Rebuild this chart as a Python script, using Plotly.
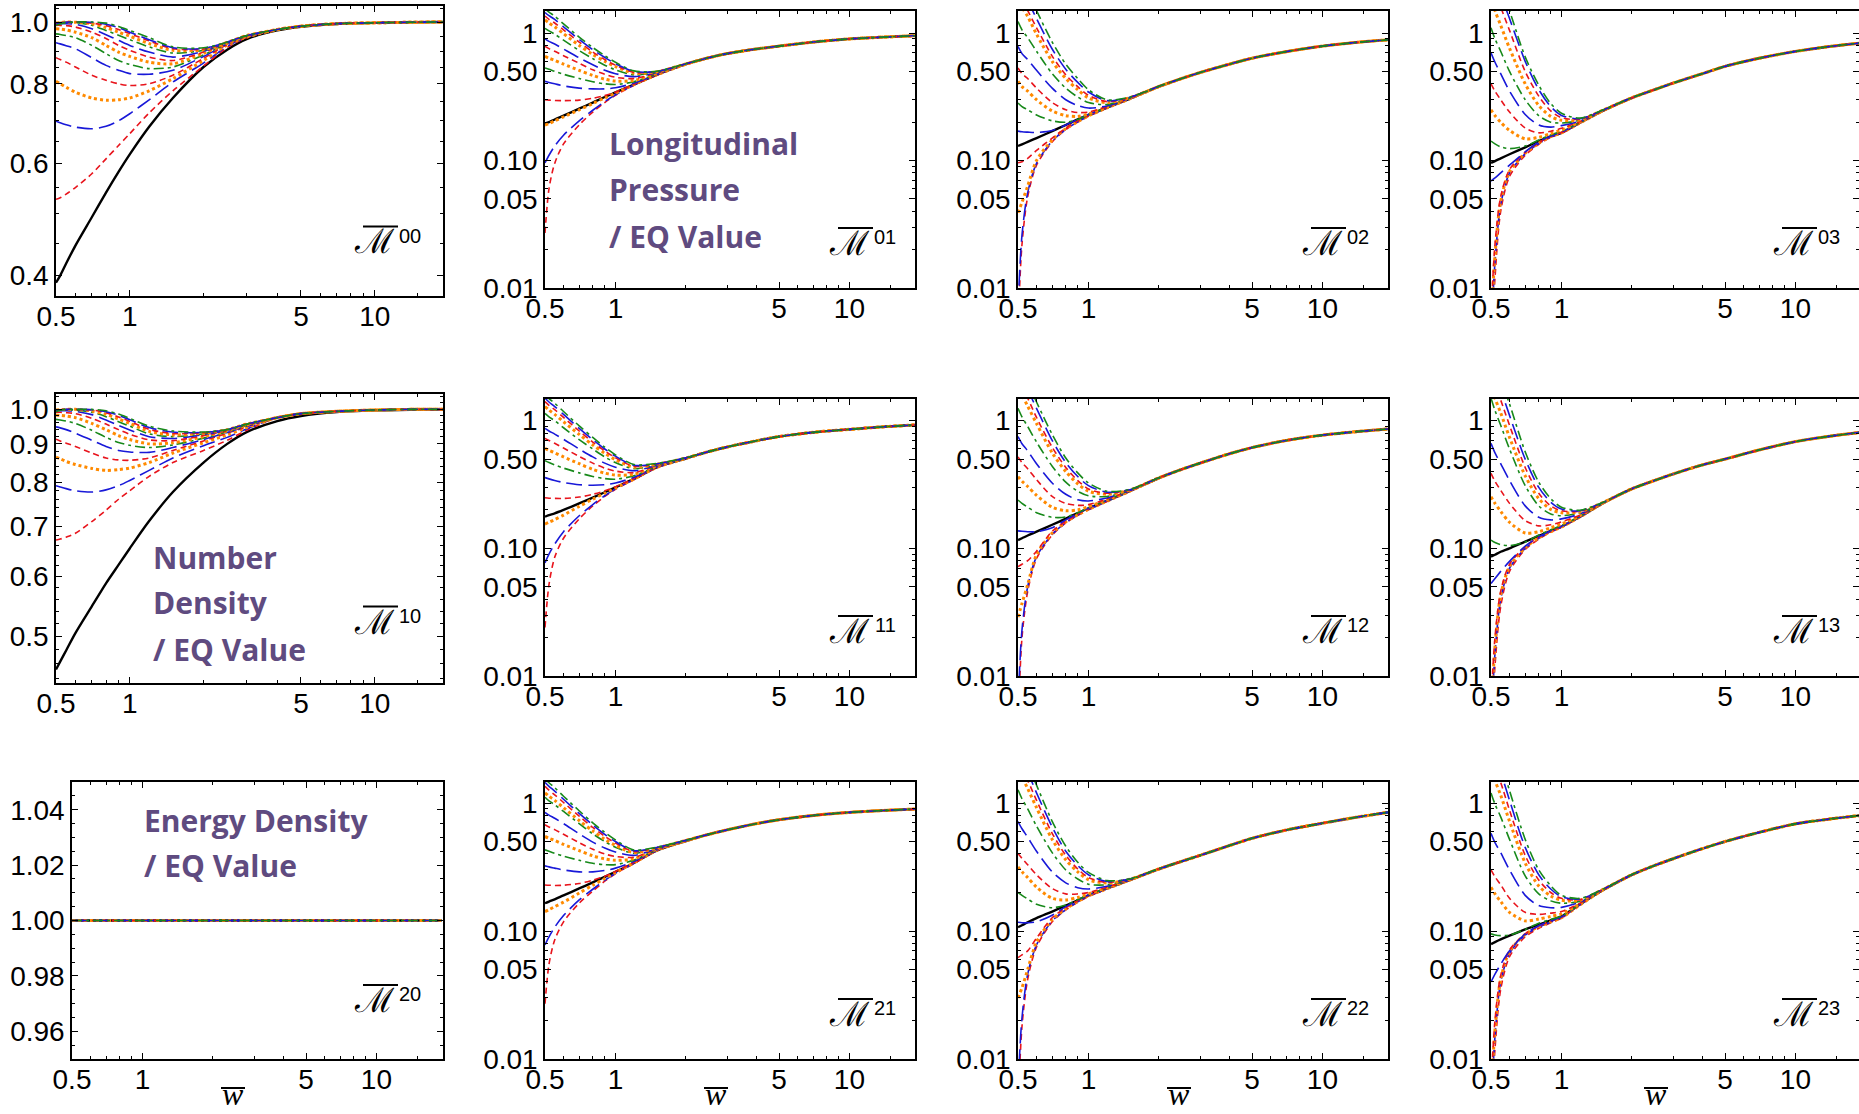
import math
import plotly.graph_objects as go

W, H = 1859, 1114

# ---------------- data ----------------
HEAD_X = [0.5, 0.52, 0.55, 0.6, 0.7, 0.8, 0.9, 1.0, 1.2, 1.5, 2.0, 2.5, 3.0]
TAIL_X = [4.0, 5.0, 7.0, 10.0, 14.0, 19.0]
CURVE_STYLE = ["red", "blue", "orange", "red", "blue", "green", "orange",
               "red", "blue", "green", "orange", "red", "blue", "green"]

X_TICKS = [0.5, 1, 5, 10]
X_TICK_TEXT = ["0.5", "1", "5", "10"]
LOG_Y_TICKS = [0.01, 0.05, 0.1, 0.5, 1]
LOG_Y_TICK_TEXT = ["0.01", "0.05", "0.10", "0.50", "1"]

# ---- M00 ----
M00_BLACK = [0.39, 0.40, 0.418, 0.446, 0.494, 0.54, 0.582, 0.62, 0.685, 0.76, 0.85, 0.905, 0.94,
             0.97, 0.983, 0.993, 0.997, 0.999, 1.0]
M00_TAIL = [0.973, 0.985, 0.994, 0.997, 0.999, 1.0]
M00_CURVES = [
    [0.527, 0.530, 0.537, 0.55, 0.578, 0.61, 0.64, 0.668, 0.72, 0.78, 0.853, 0.912, 0.945],
    [0.699, 0.695, 0.69, 0.684, 0.68, 0.686, 0.70, 0.718, 0.755, 0.805, 0.862, 0.916, 0.946],
    [0.807, 0.80, 0.79, 0.776, 0.76, 0.754, 0.755, 0.76, 0.78, 0.815, 0.87, 0.92, 0.947],
    [0.879, 0.873, 0.865, 0.85, 0.825, 0.81, 0.80, 0.795, 0.80, 0.825, 0.877, 0.922, 0.948],
    [0.928, 0.924, 0.918, 0.908, 0.879, 0.855, 0.84, 0.83, 0.828, 0.84, 0.883, 0.924, 0.949],
    [0.958, 0.956, 0.952, 0.945, 0.919, 0.892, 0.87, 0.858, 0.845, 0.85, 0.888, 0.925, 0.95],
    [0.976, 0.975, 0.972, 0.964, 0.945, 0.919, 0.897, 0.883, 0.865, 0.86, 0.893, 0.926, 0.95],
    [0.988, 0.988, 0.987, 0.982, 0.964, 0.942, 0.919, 0.903, 0.881, 0.87, 0.897, 0.927, 0.951],
    [0.994, 0.994, 0.994, 0.992, 0.976, 0.955, 0.936, 0.919, 0.897, 0.881, 0.90, 0.928, 0.951],
    [0.997, 0.998, 0.999, 0.998, 0.988, 0.97, 0.953, 0.938, 0.914, 0.894, 0.903, 0.929, 0.952],
    [0.996, 0.998, 1.0, 0.999, 0.994, 0.98, 0.964, 0.95, 0.925, 0.903, 0.905, 0.929, 0.952],
    [0.994, 0.997, 1.0, 1.0, 0.996, 0.987, 0.973, 0.959, 0.934, 0.908, 0.907, 0.93, 0.952],
    [0.992, 0.996, 0.999, 1.0, 0.999, 0.992, 0.98, 0.964, 0.938, 0.911, 0.909, 0.93, 0.952],
    [0.988, 0.993, 0.998, 1.0, 1.0, 0.996, 0.984, 0.97, 0.945, 0.914, 0.911, 0.93, 0.952],
]

# ---- M01 ----
M01_BLACK = [0.195, 0.2, 0.21, 0.225, 0.255, 0.285, 0.315, 0.342, 0.395, 0.47, 0.57, 0.64, 0.69,
             0.75, 0.79, 0.85, 0.9, 0.93, 0.953]
M01_TAIL = [0.75, 0.79, 0.85, 0.9, 0.93, 0.953]
M01_CURVES = [
    [0.027, 0.06, 0.095, 0.135, 0.19, 0.24, 0.285, 0.325, 0.39, 0.468, 0.568, 0.64, 0.69],
    [0.096, 0.11, 0.13, 0.158, 0.205, 0.248, 0.29, 0.328, 0.392, 0.47, 0.568, 0.64, 0.69],
    [0.19, 0.195, 0.205, 0.22, 0.25, 0.28, 0.31, 0.338, 0.394, 0.47, 0.569, 0.64, 0.69],
    [0.30, 0.298, 0.296, 0.295, 0.298, 0.308, 0.323, 0.343, 0.397, 0.472, 0.57, 0.64, 0.69],
    [0.418, 0.41, 0.40, 0.385, 0.37, 0.365, 0.365, 0.372, 0.405, 0.475, 0.57, 0.64, 0.69],
    [0.532, 0.52, 0.50, 0.475, 0.44, 0.415, 0.40, 0.395, 0.415, 0.478, 0.571, 0.64, 0.69],
    [0.657, 0.635, 0.61, 0.57, 0.51, 0.465, 0.435, 0.42, 0.425, 0.482, 0.571, 0.64, 0.69],
    [0.786, 0.755, 0.72, 0.665, 0.58, 0.515, 0.475, 0.45, 0.44, 0.486, 0.572, 0.64, 0.69],
    [0.90, 0.86, 0.82, 0.75, 0.64, 0.565, 0.51, 0.48, 0.455, 0.49, 0.572, 0.64, 0.69],
    [1.09, 1.04, 0.98, 0.88, 0.73, 0.63, 0.56, 0.515, 0.47, 0.494, 0.573, 0.64, 0.69],
    [1.27, 1.2, 1.12, 0.99, 0.80, 0.68, 0.60, 0.545, 0.485, 0.497, 0.573, 0.64, 0.69],
    [1.36, 1.28, 1.2, 1.06, 0.85, 0.71, 0.62, 0.56, 0.49, 0.50, 0.574, 0.64, 0.69],
    [1.45, 1.37, 1.28, 1.12, 0.89, 0.74, 0.645, 0.575, 0.50, 0.50, 0.574, 0.64, 0.69],
    [1.55, 1.46, 1.36, 1.18, 0.93, 0.77, 0.665, 0.59, 0.505, 0.502, 0.575, 0.64, 0.69],
]

# ---- M02 ----
M02_BLACK = [0.13, 0.134, 0.14, 0.15, 0.17, 0.19, 0.21, 0.228, 0.26, 0.305, 0.38, 0.44, 0.49,
             0.57, 0.635, 0.715, 0.79, 0.845, 0.885]
M02_TAIL = [0.57, 0.635, 0.715, 0.79, 0.845, 0.885]
M02_CURVES = [
    [0.005, 0.022, 0.052, 0.092, 0.14, 0.175, 0.2, 0.222, 0.258, 0.305, 0.38, 0.44, 0.49],
    [0.007, 0.026, 0.056, 0.095, 0.142, 0.176, 0.201, 0.223, 0.258, 0.305, 0.38, 0.44, 0.49],
    [0.039, 0.047, 0.063, 0.1, 0.145, 0.178, 0.202, 0.224, 0.259, 0.305, 0.38, 0.44, 0.49],
    [0.096, 0.098, 0.104, 0.12, 0.15, 0.18, 0.205, 0.226, 0.26, 0.306, 0.38, 0.44, 0.49],
    [0.17, 0.168, 0.167, 0.166, 0.172, 0.19, 0.21, 0.23, 0.262, 0.306, 0.38, 0.44, 0.49],
    [0.283, 0.265, 0.25, 0.228, 0.205, 0.2, 0.21, 0.228, 0.262, 0.307, 0.38, 0.44, 0.49],
    [0.418, 0.38, 0.35, 0.3, 0.245, 0.225, 0.222, 0.232, 0.263, 0.307, 0.38, 0.44, 0.49],
    [0.532, 0.48, 0.44, 0.37, 0.285, 0.25, 0.238, 0.24, 0.265, 0.308, 0.381, 0.44, 0.49],
    [0.786, 0.69, 0.62, 0.51, 0.37, 0.3, 0.27, 0.258, 0.268, 0.309, 0.381, 0.44, 0.49],
    [1.23, 1.06, 0.92, 0.72, 0.48, 0.37, 0.315, 0.285, 0.275, 0.31, 0.381, 0.44, 0.49],
    [1.9, 1.6, 1.35, 0.98, 0.6, 0.44, 0.36, 0.31, 0.285, 0.311, 0.381, 0.44, 0.49],
    [2.1, 1.8, 1.5, 1.1, 0.66, 0.47, 0.38, 0.325, 0.29, 0.312, 0.382, 0.44, 0.49],
    [2.6, 2.2, 1.8, 1.3, 0.75, 0.52, 0.41, 0.345, 0.295, 0.313, 0.382, 0.44, 0.49],
    [3.0, 2.5, 2.1, 1.5, 0.85, 0.57, 0.44, 0.36, 0.3, 0.314, 0.382, 0.44, 0.49],
]

# ---- M03 ----
M03_BLACK = [0.096, 0.099, 0.104, 0.112, 0.127, 0.142, 0.155, 0.165, 0.198, 0.245, 0.31, 0.36, 0.405,
             0.48, 0.548, 0.635, 0.718, 0.785, 0.835]
M03_TAIL = [0.48, 0.548, 0.635, 0.718, 0.785, 0.835]
M03_CURVES = [
    [0.003, 0.012, 0.04, 0.075, 0.11, 0.134, 0.152, 0.164, 0.197, 0.245, 0.31, 0.36, 0.405],
    [0.004, 0.016, 0.045, 0.08, 0.113, 0.136, 0.153, 0.165, 0.197, 0.245, 0.31, 0.36, 0.405],
    [0.005, 0.018, 0.048, 0.082, 0.114, 0.137, 0.154, 0.165, 0.197, 0.245, 0.31, 0.36, 0.405],
    [0.006, 0.022, 0.052, 0.085, 0.116, 0.138, 0.155, 0.166, 0.198, 0.245, 0.31, 0.36, 0.405],
    [0.069, 0.073, 0.08, 0.092, 0.117, 0.14, 0.156, 0.167, 0.198, 0.245, 0.31, 0.36, 0.405],
    [0.142, 0.135, 0.128, 0.124, 0.13, 0.145, 0.159, 0.17, 0.199, 0.246, 0.31, 0.36, 0.405],
    [0.25, 0.225, 0.2, 0.172, 0.148, 0.152, 0.163, 0.174, 0.2, 0.246, 0.31, 0.36, 0.405],
    [0.40, 0.35, 0.3, 0.24, 0.18, 0.165, 0.17, 0.179, 0.202, 0.246, 0.31, 0.36, 0.405],
    [0.70, 0.59, 0.48, 0.35, 0.23, 0.19, 0.183, 0.188, 0.204, 0.247, 0.31, 0.36, 0.405],
    [1.1, 0.9, 0.72, 0.5, 0.3, 0.225, 0.2, 0.197, 0.207, 0.247, 0.311, 0.36, 0.405],
    [1.9, 1.5, 1.15, 0.76, 0.4, 0.27, 0.222, 0.207, 0.209, 0.248, 0.311, 0.36, 0.405],
    [2.6, 2.1, 1.6, 1.05, 0.5, 0.32, 0.245, 0.217, 0.211, 0.248, 0.311, 0.36, 0.405],
    [3.2, 2.6, 2.0, 1.3, 0.6, 0.36, 0.265, 0.226, 0.213, 0.248, 0.311, 0.36, 0.405],
    [4.0, 3.2, 2.4, 1.5, 0.65, 0.39, 0.28, 0.235, 0.215, 0.249, 0.311, 0.36, 0.405],
]

# ---- M10 ----
M10_BLACK = [0.452, 0.463, 0.479, 0.505, 0.548, 0.588, 0.622, 0.654, 0.711, 0.777, 0.85, 0.9, 0.933,
             0.965, 0.98, 0.992, 0.997, 0.999, 1.0]
M10_TAIL = [0.975, 0.987, 0.994, 0.998, 1.0, 1.0]
M10_CURVES = [
    [0.671, 0.673, 0.677, 0.685, 0.71, 0.735, 0.76, 0.78, 0.815, 0.85, 0.882, 0.91, 0.938],
    [0.792, 0.789, 0.785, 0.78, 0.777, 0.782, 0.792, 0.805, 0.83, 0.862, 0.895, 0.918, 0.942],
    [0.864, 0.86, 0.853, 0.845, 0.835, 0.83, 0.832, 0.836, 0.85, 0.875, 0.903, 0.925, 0.946],
    [0.913, 0.908, 0.902, 0.893, 0.875, 0.862, 0.857, 0.856, 0.862, 0.882, 0.908, 0.93, 0.948],
    [0.948, 0.945, 0.94, 0.93, 0.91, 0.893, 0.882, 0.878, 0.877, 0.89, 0.912, 0.932, 0.95],
    [0.97, 0.968, 0.965, 0.958, 0.938, 0.918, 0.904, 0.896, 0.89, 0.897, 0.916, 0.934, 0.952],
    [0.983, 0.982, 0.98, 0.975, 0.958, 0.94, 0.923, 0.912, 0.9, 0.903, 0.92, 0.936, 0.953],
    [0.991, 0.991, 0.99, 0.987, 0.973, 0.956, 0.94, 0.927, 0.911, 0.909, 0.923, 0.937, 0.954],
    [0.996, 0.996, 0.996, 0.994, 0.984, 0.968, 0.952, 0.939, 0.92, 0.915, 0.926, 0.938, 0.955],
    [0.998, 0.998, 0.999, 0.998, 0.991, 0.978, 0.963, 0.95, 0.928, 0.92, 0.928, 0.939, 0.955],
    [0.998, 0.999, 1.0, 1.0, 0.995, 0.985, 0.971, 0.958, 0.935, 0.925, 0.93, 0.94, 0.956],
    [0.997, 0.999, 1.0, 1.0, 0.998, 0.99, 0.977, 0.964, 0.941, 0.929, 0.931, 0.94, 0.956],
    [0.995, 0.998, 1.0, 1.0, 0.999, 0.993, 0.982, 0.969, 0.946, 0.933, 0.932, 0.94, 0.956],
    [0.993, 0.997, 1.0, 1.0, 1.0, 0.996, 0.986, 0.973, 0.95, 0.936, 0.933, 0.94, 0.956],
]

# ---- M11 ----
M11_BLACK = [0.177, 0.182, 0.188, 0.2, 0.225, 0.25, 0.275, 0.30, 0.35, 0.43, 0.505, 0.572, 0.622,
             0.695, 0.75, 0.81, 0.855, 0.895, 0.925]
M11_TAIL = [0.695, 0.75, 0.81, 0.855, 0.895, 0.925]
M11_CURVES = [
    [0.024, 0.052, 0.085, 0.12, 0.17, 0.215, 0.255, 0.29, 0.345, 0.428, 0.506, 0.572, 0.622],
    [0.077, 0.09, 0.108, 0.135, 0.18, 0.22, 0.258, 0.292, 0.347, 0.429, 0.506, 0.572, 0.622],
    [0.155, 0.16, 0.168, 0.182, 0.213, 0.243, 0.27, 0.297, 0.349, 0.43, 0.506, 0.572, 0.622],
    [0.249, 0.247, 0.246, 0.246, 0.252, 0.265, 0.282, 0.303, 0.352, 0.431, 0.507, 0.572, 0.622],
    [0.358, 0.35, 0.34, 0.328, 0.315, 0.312, 0.315, 0.325, 0.36, 0.434, 0.507, 0.572, 0.622],
    [0.486, 0.47, 0.45, 0.425, 0.39, 0.365, 0.352, 0.348, 0.37, 0.437, 0.508, 0.572, 0.622],
    [0.607, 0.585, 0.56, 0.52, 0.46, 0.415, 0.388, 0.375, 0.38, 0.44, 0.508, 0.572, 0.622],
    [0.727, 0.7, 0.665, 0.61, 0.525, 0.465, 0.425, 0.403, 0.392, 0.443, 0.509, 0.572, 0.622],
    [0.87, 0.83, 0.785, 0.715, 0.6, 0.52, 0.465, 0.432, 0.405, 0.447, 0.509, 0.572, 0.622],
    [1.14, 1.07, 1.0, 0.88, 0.71, 0.6, 0.52, 0.47, 0.42, 0.451, 0.51, 0.572, 0.622],
    [1.29, 1.21, 1.12, 0.98, 0.78, 0.645, 0.555, 0.495, 0.432, 0.455, 0.51, 0.572, 0.622],
    [1.41, 1.32, 1.22, 1.06, 0.83, 0.68, 0.58, 0.512, 0.44, 0.458, 0.511, 0.572, 0.622],
    [1.5, 1.4, 1.29, 1.12, 0.87, 0.71, 0.6, 0.527, 0.447, 0.46, 0.511, 0.572, 0.622],
    [1.6, 1.49, 1.37, 1.18, 0.91, 0.74, 0.62, 0.54, 0.453, 0.463, 0.512, 0.572, 0.622],
]

# ---- M12 ----
M12_BLACK = [0.116, 0.12, 0.126, 0.135, 0.153, 0.171, 0.189, 0.206, 0.235, 0.28, 0.355, 0.415, 0.465,
             0.55, 0.615, 0.7, 0.77, 0.82, 0.86]
M12_TAIL = [0.55, 0.615, 0.7, 0.77, 0.82, 0.86]
M12_CURVES = [
    [0.004, 0.02, 0.046, 0.083, 0.127, 0.158, 0.181, 0.2, 0.233, 0.28, 0.355, 0.415, 0.465],
    [0.006, 0.023, 0.05, 0.086, 0.129, 0.159, 0.182, 0.201, 0.233, 0.28, 0.355, 0.415, 0.465],
    [0.029, 0.037, 0.052, 0.089, 0.132, 0.161, 0.183, 0.202, 0.234, 0.28, 0.355, 0.415, 0.465],
    [0.072, 0.075, 0.08, 0.095, 0.136, 0.163, 0.185, 0.204, 0.235, 0.281, 0.355, 0.415, 0.465],
    [0.137, 0.136, 0.135, 0.135, 0.145, 0.167, 0.188, 0.207, 0.237, 0.281, 0.355, 0.415, 0.465],
    [0.239, 0.225, 0.21, 0.19, 0.175, 0.176, 0.19, 0.208, 0.238, 0.282, 0.356, 0.415, 0.465],
    [0.364, 0.335, 0.305, 0.26, 0.21, 0.197, 0.2, 0.212, 0.24, 0.282, 0.356, 0.415, 0.465],
    [0.52, 0.47, 0.42, 0.345, 0.255, 0.225, 0.217, 0.22, 0.243, 0.283, 0.356, 0.415, 0.465],
    [0.75, 0.66, 0.58, 0.46, 0.325, 0.265, 0.24, 0.235, 0.248, 0.284, 0.356, 0.415, 0.465],
    [1.25, 1.07, 0.9, 0.68, 0.44, 0.33, 0.28, 0.258, 0.255, 0.285, 0.357, 0.415, 0.465],
    [1.9, 1.6, 1.3, 0.95, 0.56, 0.4, 0.32, 0.28, 0.265, 0.286, 0.357, 0.415, 0.465],
    [2.2, 1.8, 1.5, 1.06, 0.62, 0.43, 0.34, 0.292, 0.27, 0.287, 0.357, 0.415, 0.465],
    [2.6, 2.15, 1.75, 1.25, 0.7, 0.47, 0.365, 0.31, 0.275, 0.288, 0.357, 0.415, 0.465],
    [3.0, 2.5, 2.0, 1.4, 0.78, 0.51, 0.39, 0.325, 0.28, 0.289, 0.357, 0.415, 0.465],
]

# ---- M13 ----
M13_BLACK = [0.086, 0.089, 0.094, 0.1, 0.113, 0.125, 0.137, 0.148, 0.177, 0.225, 0.292, 0.34, 0.382,
             0.45, 0.5, 0.59, 0.685, 0.755, 0.81]
M13_TAIL = [0.45, 0.5, 0.59, 0.685, 0.755, 0.81]
M13_CURVES = [
    [0.003, 0.012, 0.035, 0.066, 0.098, 0.118, 0.134, 0.146, 0.176, 0.225, 0.292, 0.34, 0.382],
    [0.004, 0.015, 0.04, 0.07, 0.1, 0.12, 0.135, 0.147, 0.176, 0.225, 0.292, 0.34, 0.382],
    [0.005, 0.017, 0.043, 0.072, 0.101, 0.121, 0.135, 0.147, 0.176, 0.225, 0.292, 0.34, 0.382],
    [0.006, 0.02, 0.046, 0.075, 0.103, 0.122, 0.136, 0.148, 0.177, 0.225, 0.292, 0.34, 0.382],
    [0.053, 0.058, 0.066, 0.079, 0.104, 0.123, 0.137, 0.149, 0.177, 0.225, 0.292, 0.34, 0.382],
    [0.116, 0.111, 0.107, 0.105, 0.112, 0.127, 0.14, 0.151, 0.178, 0.226, 0.292, 0.34, 0.382],
    [0.254, 0.225, 0.195, 0.16, 0.132, 0.135, 0.145, 0.155, 0.18, 0.226, 0.292, 0.34, 0.382],
    [0.387, 0.335, 0.285, 0.225, 0.165, 0.15, 0.153, 0.161, 0.182, 0.226, 0.292, 0.34, 0.382],
    [0.665, 0.56, 0.46, 0.34, 0.215, 0.175, 0.167, 0.17, 0.186, 0.227, 0.293, 0.34, 0.382],
    [1.5, 1.2, 0.92, 0.6, 0.31, 0.215, 0.186, 0.18, 0.19, 0.227, 0.293, 0.34, 0.382],
    [1.9, 1.5, 1.15, 0.74, 0.37, 0.245, 0.202, 0.19, 0.193, 0.228, 0.293, 0.34, 0.382],
    [2.4, 1.9, 1.45, 0.92, 0.43, 0.27, 0.215, 0.197, 0.195, 0.228, 0.293, 0.34, 0.382],
    [2.9, 2.3, 1.75, 1.1, 0.5, 0.3, 0.23, 0.203, 0.197, 0.228, 0.293, 0.34, 0.382],
    [3.5, 2.8, 2.1, 1.35, 0.57, 0.33, 0.245, 0.21, 0.199, 0.229, 0.293, 0.34, 0.382],
]

# ---- M20 ----
M20_BLACK = [1.0, 1.0, 1.0, 1.0, 1.0, 1.0, 1.0, 1.0, 1.0, 1.0, 1.0, 1.0, 1.0,
             1.0, 1.0, 1.0, 1.0, 1.0, 1.0]
M20_TAIL = [1.0, 1.0, 1.0, 1.0, 1.0, 1.0]
M20_HEAD = [1.0, 1.0, 1.0, 1.0, 1.0, 1.0, 1.0, 1.0, 1.0, 1.0, 1.0, 1.0, 1.0]
M20_CURVES = [M20_HEAD for _ in CURVE_STYLE]

# ---- M21 ----
M21_BLACK = [0.165, 0.17, 0.177, 0.19, 0.215, 0.24, 0.265, 0.29, 0.34, 0.425, 0.505, 0.569, 0.617,
             0.69, 0.74, 0.8, 0.845, 0.875, 0.897]
M21_TAIL = [0.69, 0.74, 0.8, 0.845, 0.875, 0.897]
M21_CURVES = [
    [0.027, 0.055, 0.085, 0.118, 0.165, 0.205, 0.245, 0.28, 0.337, 0.424, 0.506, 0.569, 0.617],
    [0.078, 0.09, 0.107, 0.132, 0.175, 0.212, 0.249, 0.283, 0.339, 0.425, 0.506, 0.569, 0.617],
    [0.142, 0.147, 0.155, 0.168, 0.198, 0.228, 0.257, 0.287, 0.341, 0.426, 0.506, 0.569, 0.617],
    [0.229, 0.228, 0.227, 0.228, 0.235, 0.25, 0.268, 0.292, 0.344, 0.427, 0.507, 0.569, 0.617],
    [0.323, 0.317, 0.31, 0.3, 0.29, 0.29, 0.297, 0.31, 0.35, 0.43, 0.507, 0.569, 0.617],
    [0.431, 0.42, 0.405, 0.385, 0.357, 0.338, 0.33, 0.33, 0.358, 0.432, 0.508, 0.569, 0.617],
    [0.548, 0.53, 0.51, 0.475, 0.425, 0.387, 0.366, 0.357, 0.367, 0.435, 0.508, 0.569, 0.617],
    [0.677, 0.65, 0.62, 0.57, 0.49, 0.435, 0.4, 0.382, 0.377, 0.437, 0.509, 0.569, 0.617],
    [0.845, 0.805, 0.76, 0.69, 0.575, 0.495, 0.445, 0.414, 0.39, 0.44, 0.509, 0.569, 0.617],
    [1.11, 1.04, 0.97, 0.86, 0.69, 0.575, 0.5, 0.452, 0.405, 0.444, 0.51, 0.569, 0.617],
    [1.2, 1.13, 1.05, 0.92, 0.73, 0.605, 0.52, 0.467, 0.41, 0.446, 0.51, 0.569, 0.617],
    [1.35, 1.26, 1.16, 1.01, 0.79, 0.645, 0.55, 0.487, 0.418, 0.448, 0.511, 0.569, 0.617],
    [1.45, 1.35, 1.24, 1.07, 0.83, 0.675, 0.57, 0.5, 0.424, 0.45, 0.511, 0.569, 0.617],
    [1.55, 1.44, 1.32, 1.13, 0.87, 0.7, 0.59, 0.515, 0.43, 0.452, 0.512, 0.569, 0.617],
]

# ---- M22 ----
M22_BLACK = [0.107, 0.111, 0.117, 0.126, 0.142, 0.158, 0.174, 0.19, 0.215, 0.25, 0.305, 0.35, 0.39,
             0.465, 0.53, 0.615, 0.696, 0.775, 0.845]
M22_TAIL = [0.465, 0.53, 0.615, 0.696, 0.775, 0.845]
M22_CURVES = [
    [0.004, 0.018, 0.042, 0.075, 0.118, 0.146, 0.168, 0.186, 0.213, 0.25, 0.305, 0.35, 0.39],
    [0.006, 0.021, 0.046, 0.078, 0.12, 0.147, 0.169, 0.187, 0.213, 0.25, 0.305, 0.35, 0.39],
    [0.03, 0.036, 0.05, 0.082, 0.123, 0.149, 0.17, 0.188, 0.214, 0.25, 0.305, 0.35, 0.39],
    [0.062, 0.065, 0.07, 0.088, 0.127, 0.152, 0.172, 0.189, 0.215, 0.25, 0.305, 0.35, 0.39],
    [0.117, 0.116, 0.116, 0.118, 0.133, 0.155, 0.174, 0.191, 0.216, 0.25, 0.305, 0.35, 0.39],
    [0.2, 0.19, 0.178, 0.162, 0.152, 0.16, 0.176, 0.192, 0.217, 0.251, 0.305, 0.35, 0.39],
    [0.317, 0.29, 0.262, 0.22, 0.18, 0.175, 0.183, 0.195, 0.218, 0.251, 0.305, 0.35, 0.39],
    [0.404, 0.37, 0.33, 0.275, 0.215, 0.195, 0.195, 0.2, 0.22, 0.252, 0.305, 0.35, 0.39],
    [0.717, 0.63, 0.54, 0.42, 0.29, 0.238, 0.218, 0.213, 0.224, 0.252, 0.306, 0.35, 0.39],
    [1.27, 1.08, 0.9, 0.66, 0.41, 0.3, 0.255, 0.232, 0.23, 0.253, 0.306, 0.35, 0.39],
    [1.9, 1.6, 1.3, 0.92, 0.52, 0.36, 0.29, 0.252, 0.237, 0.254, 0.306, 0.35, 0.39],
    [2.2, 1.8, 1.5, 1.05, 0.58, 0.39, 0.305, 0.262, 0.24, 0.254, 0.306, 0.35, 0.39],
    [2.6, 2.15, 1.75, 1.2, 0.65, 0.42, 0.325, 0.275, 0.244, 0.255, 0.306, 0.35, 0.39],
    [3.0, 2.5, 2.0, 1.38, 0.72, 0.46, 0.345, 0.287, 0.248, 0.255, 0.307, 0.35, 0.39],
]

# ---- M23 ----
M23_BLACK = [0.079, 0.082, 0.086, 0.092, 0.103, 0.112, 0.121, 0.13, 0.162, 0.208, 0.275, 0.325, 0.367,
             0.44, 0.5, 0.59, 0.687, 0.75, 0.8]
M23_TAIL = [0.44, 0.5, 0.59, 0.687, 0.75, 0.8]
M23_CURVES = [
    [0.003, 0.012, 0.035, 0.063, 0.09, 0.105, 0.116, 0.126, 0.16, 0.208, 0.275, 0.325, 0.367],
    [0.004, 0.015, 0.04, 0.067, 0.093, 0.107, 0.117, 0.127, 0.16, 0.208, 0.275, 0.325, 0.367],
    [0.005, 0.017, 0.042, 0.069, 0.094, 0.108, 0.118, 0.127, 0.16, 0.208, 0.275, 0.325, 0.367],
    [0.006, 0.02, 0.045, 0.071, 0.095, 0.109, 0.119, 0.128, 0.161, 0.208, 0.275, 0.325, 0.367],
    [0.04, 0.046, 0.055, 0.07, 0.095, 0.11, 0.12, 0.129, 0.161, 0.208, 0.275, 0.325, 0.367],
    [0.095, 0.093, 0.092, 0.093, 0.103, 0.115, 0.123, 0.131, 0.162, 0.208, 0.275, 0.325, 0.367],
    [0.22, 0.195, 0.17, 0.14, 0.12, 0.124, 0.13, 0.136, 0.163, 0.209, 0.275, 0.325, 0.367],
    [0.30, 0.265, 0.23, 0.18, 0.14, 0.135, 0.138, 0.142, 0.165, 0.209, 0.275, 0.325, 0.367],
    [0.58, 0.49, 0.41, 0.3, 0.19, 0.158, 0.152, 0.153, 0.168, 0.21, 0.275, 0.325, 0.367],
    [1.2, 0.98, 0.78, 0.52, 0.27, 0.195, 0.172, 0.165, 0.171, 0.21, 0.275, 0.325, 0.367],
    [1.9, 1.5, 1.15, 0.72, 0.34, 0.225, 0.188, 0.174, 0.174, 0.211, 0.275, 0.325, 0.367],
    [2.4, 1.9, 1.45, 0.88, 0.39, 0.25, 0.2, 0.18, 0.176, 0.211, 0.275, 0.325, 0.367],
    [3.0, 2.35, 1.75, 1.05, 0.45, 0.275, 0.213, 0.185, 0.178, 0.211, 0.275, 0.325, 0.367],
    [3.6, 2.8, 2.1, 1.25, 0.52, 0.3, 0.226, 0.19, 0.18, 0.212, 0.276, 0.325, 0.367],
]

PANELS = [
    ["00", M00_BLACK, M00_CURVES, M00_TAIL],
    ["01", M01_BLACK, M01_CURVES, M01_TAIL],
    ["02", M02_BLACK, M02_CURVES, M02_TAIL],
    ["03", M03_BLACK, M03_CURVES, M03_TAIL],
    ["10", M10_BLACK, M10_CURVES, M10_TAIL],
    ["11", M11_BLACK, M11_CURVES, M11_TAIL],
    ["12", M12_BLACK, M12_CURVES, M12_TAIL],
    ["13", M13_BLACK, M13_CURVES, M13_TAIL],
    ["20", M20_BLACK, M20_CURVES, M20_TAIL],
    ["21", M21_BLACK, M21_CURVES, M21_TAIL],
    ["22", M22_BLACK, M22_CURVES, M22_TAIL],
    ["23", M23_BLACK, M23_CURVES, M23_TAIL],
]

TEXT_BLOCKS = [
    # (lines, left px, centre-y px of each line)
    (["Longitudinal", "Pressure", "/ EQ Value"], 607, [143.5, 189.5, 236.5]),
    (["Number", "Density", "/ EQ Value"], 151, [557.5, 602.5, 649.5]),
    (["Energy Density", "/ EQ Value"], 142, [820.5, 865.5]),
]

# ---------------- styling / layout ----------------
STY = {
    "red": dict(color="#e8141c", width=1.6, dash="6px,4px"),
    "blue": dict(color="#1818d8", width=1.6, dash="16px,6px"),
    "orange": dict(color="#ff8a00", width=3.0, dash="3px,3px"),
    "green": dict(color="#17891a", width=1.6, dash="10px,4px,3px,4px"),
}
PURPLE = "#5f4b80"
TICK_FONT = dict(family="Liberation Sans, Arial, sans-serif", size=28, color="black")

def frame(r, c):
    if c == 0:
        xs = [(56, 443), (56, 443), (72, 443)][r]
        ys = [(6, 296), (394, 683), (782, 1059)][r]
    else:
        xs = [(545, 915), (1018, 1388), (1491, 1859)][c - 1]
        ys = [(11, 288), (399, 676), (782, 1059)][r]
    return xs[0], xs[1], ys[0], ys[1]

XMAX = {0: 19.0, 1: 19.06, 2: 19.06, 3: 18.69}
LOG_TOP = [1.49, 1.478, 1.46]

X_MINOR = [0.6, 0.7, 0.8, 0.9, 2, 3, 4, 6, 7, 8, 9, 15]
LOG_Y_MINOR = [0.02, 0.03, 0.04, 0.06, 0.07, 0.08, 0.09, 0.2, 0.3, 0.4, 0.6, 0.7, 0.8, 0.9]

fig = go.Figure()
layout = dict(width=W, height=H, margin=dict(l=0, r=0, t=0, b=0), autosize=False,
              paper_bgcolor="white", plot_bgcolor="white", showlegend=False)
annotations = []
shapes = []

def px_x(p):
    return p / W

def px_y(p):
    return 1 - p / H

for idx, (name, black, curves, tail) in enumerate(PANELS):
    r, c = divmod(idx, 4)
    n = idx + 1
    xa = "x" if n == 1 else f"x{n}"
    ya = "y" if n == 1 else f"y{n}"
    x0, x1, y0, y1 = frame(r, c)

    full_x = HEAD_X + TAIL_X
    fig.add_trace(go.Scatter(x=full_x, y=black, mode="lines", xaxis=xa, yaxis=ya,
                             line=dict(color="black", width=2.4, shape="spline", smoothing=0.8),
                             hoverinfo="skip"))
    for k, vals in enumerate(curves):
        st = STY[CURVE_STYLE[k]]
        fig.add_trace(go.Scatter(x=full_x, y=list(vals) + list(tail), mode="lines",
                                 xaxis=xa, yaxis=ya,
                                 line=dict(color=st["color"], width=st["width"], dash=st["dash"],
                                           shape="spline", smoothing=0.8),
                                 hoverinfo="skip"))

    common = dict(showline=True, linecolor="black", linewidth=1.5, mirror="ticks",
                  ticks="inside", ticklen=6, tickwidth=1.2, tickcolor="black",
                  showgrid=False, zeroline=False, tickfont=TICK_FONT, automargin=False)
    xmax = XMAX[c] if not (r == 2 and c == 0) else 19.25
    xaxis = dict(common, type="log", domain=[px_x(x0), px_x(x1)],
                 range=[math.log10(0.5), math.log10(xmax)],
                 anchor=ya, tickmode="array", tickvals=X_TICKS, ticktext=X_TICK_TEXT,
                 ticklabelstandoff=-5,
                 minor=dict(tickmode="array", tickvals=X_MINOR, ticks="inside",
                            ticklen=3, tickwidth=1, tickcolor="black", showgrid=False))
    if name == "00":
        ycfg = dict(type="log", range=[math.log10(0.3717), math.log10(1.0595)],
                    tickvals=[0.4, 0.6, 0.8, 1.0], ticktext=["0.4", "0.6", "0.8", "1.0"],
                    minor_vals=[0.45, 0.5, 0.55, 0.65, 0.7, 0.75, 0.85, 0.9, 0.95, 1.05])
    elif name == "10":
        ycfg = dict(type="log", range=[math.log10(0.4337), math.log10(1.048)],
                    tickvals=[0.5, 0.6, 0.7, 0.8, 0.9, 1.0],
                    ticktext=["0.5", "0.6", "0.7", "0.8", "0.9", "1.0"],
                    minor_vals=[0.44, 0.46, 0.48, 0.52, 0.54, 0.56, 0.58, 0.62, 0.64, 0.66, 0.68,
                                0.72, 0.74, 0.76, 0.78, 0.82, 0.84, 0.86, 0.88, 0.92, 0.94,
                                0.96, 0.98, 1.02, 1.04])
    elif name == "20":
        ycfg = dict(type="linear", range=[0.95, 1.05],
                    tickvals=[0.96, 0.98, 1.0, 1.02, 1.04],
                    ticktext=["0.96", "0.98", "1.00", "1.02", "1.04"],
                    minor_vals=[0.955, 0.965, 0.97, 0.975, 0.985, 0.99, 0.995, 1.005, 1.01,
                                1.015, 1.025, 1.03, 1.035, 1.045])
    else:
        ycfg = dict(type="log", range=[math.log10(0.01), math.log10(LOG_TOP[r])],
                    tickvals=LOG_Y_TICKS, ticktext=LOG_Y_TICK_TEXT, minor_vals=LOG_Y_MINOR)
    yaxis = dict(common, type=ycfg["type"], domain=[px_y(y1), px_y(y0)], range=ycfg["range"],
                 anchor=xa, tickmode="array", tickvals=ycfg["tickvals"], ticktext=ycfg["ticktext"],
                 minor=dict(tickmode="array", tickvals=ycfg["minor_vals"], ticks="inside",
                            ticklen=3, tickwidth=1, tickcolor="black", showgrid=False))
    layout["xaxis" if n == 1 else f"xaxis{n}"] = xaxis
    layout["yaxis" if n == 1 else f"yaxis{n}"] = yaxis

    # panel label  M-bar ^ nm
    if c == 0:
        m_right = x1 - 46
        sup_right = x1 - 20
        m_cy = y1 - [54.5, 61.5, 59.0][r]
    else:
        m_right = x1 - 43
        sup_right = x1 - 17
        m_cy = y1 - 45
    annotations.append(dict(text="ℳ", xref="paper", yref="paper", x=px_x(m_right), y=px_y(m_cy),
                            xanchor="right", yanchor="middle", align="right", showarrow=False,
                            font=dict(family="DejaVu Serif, serif", size=34, color="black")))
    annotations.append(dict(text=name, xref="paper", yref="paper", x=px_x(sup_right),
                            y=px_y(m_cy - 6), xanchor="right", yanchor="middle", align="right",
                            showarrow=False,
                            font=dict(family="Liberation Sans, Arial, sans-serif", size=20,
                                      color="black")))
    shapes.append(dict(type="line", xref="paper", yref="paper",
                       x0=px_x(m_right - 34), x1=px_x(m_right + 1),
                       y0=px_y(m_cy - 15), y1=px_y(m_cy - 15),
                       line=dict(color="black", width=2)))

    # bottom-row axis label  w-bar
    if r == 2:
        wc = [233, 716, 1179, 1656][c]
        annotations.append(dict(text="<i>w</i>", xref="paper", yref="paper", x=px_x(wc),
                                y=0, xanchor="center", yanchor="bottom", showarrow=False,
                                font=dict(family="Liberation Serif, Times New Roman, serif",
                                          size=32, color="black")))
        shapes.append(dict(type="line", xref="paper", yref="paper",
                           x0=px_x(wc - 12), x1=px_x(wc + 12), y0=px_y(1088), y1=px_y(1088),
                           line=dict(color="black", width=2)))

for lines, left, cys in TEXT_BLOCKS:
    for line, cy in zip(lines, cys):
        annotations.append(dict(text=f"<b>{line}</b>", xref="paper", yref="paper",
                                x=px_x(left), y=px_y(cy), xanchor="left", yanchor="middle",
                                align="left", showarrow=False,
                                font=dict(family="Open Sans, sans-serif", size=30, color=PURPLE)))

layout["annotations"] = annotations
layout["shapes"] = shapes
fig.update_layout(**layout)
fig.write_html("out.html", config={"displayModeBar": False})

# remove the browser's default page margin so the figure sits at the window origin
with open("out.html", "r", encoding="utf-8") as fh:
    html = fh.read()
html = html.replace("<body>", '<body style="margin:0;padding:0;overflow:hidden">', 1)
with open("out.html", "w", encoding="utf-8") as fh:
    fh.write(html)
